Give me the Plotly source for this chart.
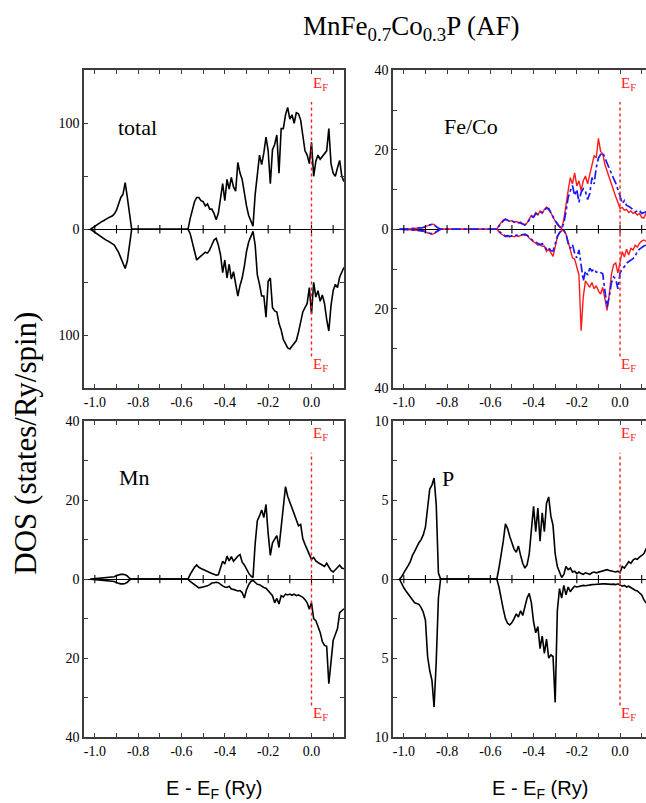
import numpy as np
import plotly.graph_objects as go

# Energy grid relative to the Fermi level (Ry)
energy = np.round(np.arange(-102, 16) * 0.01, 2)

# ---- total DOS (states/Ry/spin) ----
total_up = [
    0, 1.5, 3, 4, 5.5, 7, 8, 9.5, 10.5, 11.5,
    12.5, 14.5, 18, 24, 30, 33, 44, 30, 12, 0,
    0, 0, 0, 0, 0, 0, 0, 0, 0, 0,
    0, 0, 0, 0, 0, 0, 0, 0, 0, 0,
    0, 0, 0, 0, 0, 0, 10, 19, 26, 30,
    30, 27, 26, 22, 24, 19, 19, 15, 9, 15,
    27, 43, 27, 47, 38, 49, 40, 36, 63, 53,
    47, 33, 22, 13, 7, 3, 33, 52, 70, 61,
    72, 87, 74, 43, 75, 80, 89, 53, 95, 95,
    108, 115, 104, 108, 100, 110, 109, 103, 89, 74,
    70, 62, 82, 50, 64, 70, 66, 69, 72, 74,
    95, 62, 53, 50, 58, 65, 50, 45,
]
total_dn = [
    0, 1.5, 3, 4.5, 6, 7.5, 9, 10, 11, 12,
    13.5, 15, 18, 22, 27, 32, 37, 30, 14, 0,
    0, 0, 0, 0, 0, 0, 0, 0, 0, 0,
    0, 0, 0, 0, 0, 0, 0, 0, 0, 0,
    0, 0, 0, 0, 0, 0, 4, 12, 21, 29,
    27, 25, 23.5, 21.6, 22.5, 19.4, 14.8, 10.2, 8.6, 14.8,
    24, 41, 29, 46, 33, 47, 40, 52, 63, 53,
    46, 35, 21, 12, 6, 2, 15, 43, 52, 63,
    63, 83, 49, 46, 74, 77, 78, 89, 95, 104,
    108, 112, 113, 110, 108, 105, 97, 88, 78, 74,
    70, 55, 80, 50, 64, 58, 68, 62, 70, 85,
    96, 72, 58, 52, 55, 45, 40, 36,
]

# ---- Fe / Co partial DOS ----
fe_up = [
    0, 0, 0.05, 0.1, 0.1, 0.15, 0.2, 0.2, 0.25, 0.3,
    0.35, 0.5, 0.7, 1.0, 1.2, 1.3, 1.2, 0.7, 0.2, 0,
    0, 0, 0, 0, 0, 0, 0, 0, 0, 0,
    0, 0, 0, 0, 0, 0, 0, 0, 0, 0,
    0, 0, 0, 0, 0, 0, 1.0, 1.8, 2.3, 2.6,
    2.2, 2.0, 2.2, 1.7, 2.0, 1.6, 1.8, 1.3, 1.0, 1.6,
    2.4, 3.5, 3.0, 4.2, 3.6, 4.6, 4.0, 5.0, 5.6, 5.0,
    4.2, 3.0, 2.0, 1.2, 0.6, 0.2, 2.5, 5.6, 9.7, 13.0,
    11.4, 14.2, 10.9, 12.2, 9.7, 12.2, 13.4, 11.4, 13.8, 15.5,
    18.5, 18.0, 22.9, 19.6, 19.0, 16.3, 14.6, 13.0, 11.2, 9.7,
    8.2, 6.8, 5.2, 5.5, 4.8, 5.0, 4.2, 4.6, 4.0, 4.2,
    3.6, 4.0, 3.0, 2.8, 4.0, 3.5, 3.2, 3.0,
]
fe_dn = [
    0, 0, 0.05, 0.1, 0.1, 0.15, 0.2, 0.2, 0.25, 0.3,
    0.35, 0.5, 0.7, 1.0, 1.2, 1.25, 1.1, 0.7, 0.2, 0,
    0, 0, 0, 0, 0, 0, 0, 0, 0, 0,
    0, 0, 0, 0, 0, 0, 0, 0, 0, 0,
    0, 0, 0, 0, 0, 0, 0.6, 1.2, 1.5, 1.9,
    1.8, 1.9, 1.7, 1.9, 1.6, 1.8, 1.6, 1.4, 1.5, 1.6,
    2.2, 2.8, 3.2, 3.5, 4.0, 3.8, 4.3, 4.2, 5.6, 5.0,
    5.8, 6.8, 4.5, 2.0, 1.0, 0.3, 0.3, 1.2, 3.1, 5.0,
    7.2, 7.5, 9.7, 11.5, 25.5, 17.0, 13.0, 13.8, 14.6, 13.4,
    15.0, 14.2, 15.5, 16.3, 14.6, 17.5, 20.4, 16.5, 11.4, 8.9,
    8.5, 11.0, 8.0, 5.6, 7.0, 5.0, 6.5, 4.8, 5.2, 4.0,
    4.5, 3.5, 3.0, 2.7, 3.0, 3.2, 3.0, 3.2,
]
co_up = [
    0, 0, 0.05, 0.08, 0.1, 0.12, 0.15, 0.2, 0.22, 0.25,
    0.3, 0.45, 0.6, 0.9, 1.1, 1.2, 1.1, 0.6, 0.2, 0,
    0, 0, 0, 0, 0, 0, 0, 0, 0, 0,
    0, 0, 0, 0, 0, 0, 0, 0, 0, 0,
    0, 0, 0, 0, 0, 0, 0.8, 1.6, 2.1, 2.5,
    2.3, 2.0, 2.1, 1.8, 1.9, 1.7, 1.6, 1.2, 1.1, 1.5,
    2.2, 3.2, 3.1, 3.9, 3.8, 4.4, 4.2, 4.8, 5.3, 5.2,
    4.0, 3.2, 2.2, 1.4, 0.7, 0.2, 1.5, 4.5, 8.0, 9.7,
    11.0, 8.5, 10.0, 6.8, 9.3, 10.2, 9.5, 7.5, 9.0, 13.0,
    11.4, 15.5, 17.9, 18.8, 19.3, 17.9, 16.5, 15.4, 14.0, 12.8,
    11.6, 10.2, 8.4, 6.5, 7.2, 6.0, 5.8, 5.4, 5.0, 4.4,
    4.6, 4.8, 4.0, 4.2, 4.4, 4.0, 3.8, 3.6,
]
co_dn = [
    0, 0, 0.05, 0.08, 0.1, 0.12, 0.15, 0.2, 0.22, 0.25,
    0.3, 0.45, 0.6, 0.85, 1.0, 1.1, 1.0, 0.6, 0.2, 0,
    0, 0, 0, 0, 0, 0, 0, 0, 0, 0,
    0, 0, 0, 0, 0, 0, 0, 0, 0, 0,
    0, 0, 0, 0, 0, 0, 0.5, 1.0, 1.4, 1.7,
    1.6, 1.8, 1.6, 1.7, 1.5, 1.6, 1.5, 1.3, 1.2, 1.5,
    2.0, 2.6, 3.0, 3.2, 3.6, 3.9, 3.6, 4.2, 5.0, 4.6,
    5.4, 5.5, 3.8, 1.8, 0.8, 0.3, 0.3, 1.2, 3.5, 4.8,
    3.8, 6.0, 7.2, 5.2, 9.0, 13.0, 10.5, 11.5, 9.8, 10.5,
    10.0, 10.8, 10.6, 11.0, 11.2, 15.5, 19.5, 17.0, 13.5, 12.0,
    12.5, 15.0, 11.0, 10.0, 9.4, 8.5, 8.2, 7.8, 7.4, 6.8,
    5.5, 5.0, 4.5, 4.2, 4.0, 3.8, 3.6, 3.5,
]

# ---- Mn partial DOS ----
mn_up = [
    0, 0.05, 0.1, 0.1, 0.15, 0.2, 0.2, 0.25, 0.3, 0.35,
    0.4, 0.6, 0.9, 1.1, 1.2, 1.2, 1.1, 0.8, 0.2, 0,
    0, 0, 0, 0, 0, 0, 0, 0, 0, 0,
    0, 0, 0, 0, 0, 0, 0, 0, 0, 0,
    0, 0, 0, 0, 0, 0, 1.2, 2.2, 3.0, 3.6,
    3.0, 2.7, 2.4, 2.1, 1.9, 1.6, 1.4, 1.2, 1.0, 1.1,
    3.0, 4.5, 3.8, 5.8, 4.6, 5.7, 4.5, 5.2, 5.8, 6.2,
    4.3, 3.6, 2.4, 1.5, 0.8, 0.4, 9.0, 14.8, 16.0, 17.5,
    15.6, 18.9, 11.5, 6.0, 9.2, 10.2, 11.0, 8.0, 13.5, 19.0,
    23.4, 21.0, 19.5, 18.1, 16.2, 14.8, 13.5, 13.8, 10.2, 8.8,
    7.5, 6.5, 5.0, 5.5, 4.6, 4.2, 3.8, 3.4, 3.2, 4.0,
    3.0, 2.2, 1.8, 2.4, 3.0, 3.5, 2.8, 2.6,
]
mn_dn = [
    0, 0.05, 0.1, 0.1, 0.15, 0.2, 0.2, 0.25, 0.3, 0.35,
    0.4, 0.6, 0.9, 1.1, 1.2, 1.2, 1.1, 0.8, 0.2, 0,
    0, 0, 0, 0, 0, 0, 0, 0, 0, 0,
    0, 0, 0, 0, 0, 0, 0, 0, 0, 0,
    0, 0, 0, 0, 0, 0, 0.6, 1.0, 1.5, 2.0,
    2.2, 2.1, 2.0, 1.8, 1.7, 1.4, 1.0, 0.9, 0.8, 0.9,
    1.4, 1.7, 2.0, 2.1, 1.8, 2.5, 2.6, 2.9, 3.0, 2.9,
    3.4, 4.8, 2.7, 1.4, 0.6, 0.3, 0.8, 1.3, 1.4, 1.8,
    2.1, 2.3, 2.9, 3.4, 4.2, 6.0, 4.9, 6.3, 4.2, 4.5,
    3.8, 4.0, 3.8, 4.1, 3.8, 4.2, 4.0, 4.3, 4.6, 5.2,
    6.0, 7.6, 6.0, 10.0, 10.5, 12.0, 13.5, 15.8, 16.8, 17.0,
    26.5, 21.0, 15.5, 14.0, 12.5, 8.5, 8.0, 7.5,
]

# ---- P partial DOS ----
p_up = [
    0, 0.15, 0.4, 0.6, 0.85, 1.1, 1.5, 1.75, 2.05, 2.3,
    2.5, 2.8, 3.3, 4.5, 5.7, 5.95, 6.4, 4.7, 0.4, 0,
    0, 0, 0, 0, 0, 0, 0, 0, 0, 0,
    0, 0, 0, 0, 0, 0, 0, 0, 0, 0,
    0, 0, 0, 0, 0, 0, 0.7, 1.5, 2.4, 3.5,
    3.2, 2.7, 2.3, 1.9, 1.7, 2.1, 1.5, 1.0, 0.7, 0.9,
    1.6, 3.2, 4.6, 3.0, 4.5, 2.4, 4.2, 3.0, 4.8, 5.2,
    4.0, 3.4, 1.6, 0.8, 0.4, 0.1, 0.3, 0.8, 0.6, 0.7,
    0.45, 0.5, 0.35, 0.45, 0.35, 0.3, 0.4, 0.35, 0.3, 0.4,
    0.45, 0.4, 0.45, 0.5, 0.5, 0.55, 0.6, 0.55, 0.5, 0.45,
    0.45, 0.5, 0.4, 0.8, 0.7, 0.9, 1.1, 1.0, 1.2, 1.3,
    1.25, 1.4, 1.5, 1.6, 1.9, 1.8, 2.0, 2.1,
]
p_dn = [
    0, 0.3, 0.55, 0.75, 0.95, 1.15, 1.35, 1.5, 1.55, 1.6,
    1.8, 2.1, 2.6, 4.9, 5.8, 6.4, 8.1, 5.2, 1.2, 0,
    0, 0, 0, 0, 0, 0, 0, 0, 0, 0,
    0, 0, 0, 0, 0, 0, 0, 0, 0, 0,
    0, 0, 0, 0, 0, 0, 0.5, 1.3, 1.9, 2.5,
    2.8, 2.9, 2.75, 2.5, 2.2, 2.4, 2.0, 2.3, 1.7, 1.2,
    0.9, 1.5, 2.7, 3.4, 3.0, 4.4, 3.6, 4.7, 3.8, 5.0,
    4.8, 4.9, 7.8, 2.0, 0.6, 1.2, 0.4, 1.0, 0.5, 0.8,
    0.6, 0.45, 0.5, 0.45, 0.42, 0.4, 0.42, 0.38, 0.36, 0.35,
    0.34, 0.32, 0.3, 0.3, 0.3, 0.3, 0.32, 0.3, 0.33, 0.32,
    0.35, 0.3, 0.35, 0.45, 0.4, 0.5, 0.45, 0.55, 0.6, 0.7,
    0.75, 0.85, 1.0, 1.3, 1.5, 1.5, 1.6, 1.6,
]

# Axis tick positions and labels (labelled majors, unlabelled minors)
x_major = [-1.0, -0.8, -0.6, -0.4, -0.2, 0.0]
x_major_labels = ["-1.0", "-0.8", "-0.6", "-0.4", "-0.2", "0.0"]
x_minor = [-1.0, -0.9, -0.8, -0.7, -0.6, -0.5, -0.4, -0.3, -0.2, -0.1, 0.0, 0.1]
y_major_total = [-100, 0, 100]
y_labels_total = ["100", "0", "100"]
y_minor_total = [-150, -100, -50, 0, 50, 100, 150]
y_major_40 = [-40, -20, 0, 20, 40]
y_labels_40 = ["40", "20", "0", "20", "40"]
y_minor_40 = [-40, -30, -20, -10, 0, 10, 20, 30, 40]
y_major_p = [-10, -5, 0, 5, 10]
y_labels_p = ["10", "5", "0", "5", "10"]
y_minor_p = [-10, -7.5, -5, -2.5, 0, 2.5, 5, 7.5, 10]

W, H = 646, 803
SERIF = "Liberation Serif, Times New Roman, serif"
SANS = "Liberation Sans, Arial, sans-serif"
FRAME = "#3c3c3c"
RED = "#ff1a1a"
BLUE = "#1a1aff"


def px_x(a, b):
    return [a / W, min(b / W, 1.0)]


def px_y(top, bottom):
    return [1 - bottom / H, 1 - top / H]


panels = [
    dict(n="", xd=px_x(84, 344), yd=px_y(64.5, 388.5), xr=[-1.05, 0.15], yr=[-150, 150],
         yt=(y_major_total, y_labels_total, y_minor_total), mirror=True,
         label="total", lx=116, ly=123),
    dict(n="2", xd=px_x(393, 646), yd=px_y(64.5, 388.5), xr=[-1.05, 0.12], yr=[-40, 40],
         yt=(y_major_40, y_labels_40, y_minor_40), mirror=False,
         label="Fe/Co", lx=442, ly=122),
    dict(n="3", xd=px_x(84, 344), yd=px_y(422, 744), xr=[-1.05, 0.15], yr=[-40, 40],
         yt=(y_major_40, y_labels_40, y_minor_40), mirror=True,
         label="Mn", lx=117, ly=479),
    dict(n="4", xd=px_x(393, 646), yd=px_y(422, 744), xr=[-1.05, 0.12], yr=[-10, 10],
         yt=(y_major_p, y_labels_p, y_minor_p), mirror=False,
         label="P", lx=440, ly=480),
]

series = [
    ("", [(total_up, total_dn, "black", "solid", 1.6)]),
    ("2", [(fe_up, fe_dn, RED, "solid", 1.4), (co_up, co_dn, BLUE, "dashdot", 1.7)]),
    ("3", [(mn_up, mn_dn, "black", "solid", 1.6)]),
    ("4", [(p_up, p_dn, "black", "solid", 1.6)]),
]

fig = go.Figure()

for n, curves in series:
    xa, ya = "x" + n, "y" + n
    for up, dn, color, dash, width in curves:
        for sign, vals in ((1, up), (-1, dn)):
            fig.add_trace(go.Scatter(
                x=energy, y=sign * np.asarray(vals, dtype=float),
                mode="lines", xaxis=xa, yaxis=ya, showlegend=False,
                line=dict(color=color, dash=dash, width=width),
                hoverinfo="skip",
            ))
    # small ticks crossing the zero axis
    fig.add_trace(go.Scatter(
        x=x_minor, y=[0] * len(x_minor), mode="markers", xaxis=xa, yaxis=ya,
        showlegend=False, hoverinfo="skip", cliponaxis=False,
        marker=dict(symbol="line-ns", size=6, color="black",
                    line=dict(color="black", width=1.1)),
    ))

layout = dict(
    width=W, height=H,
    margin=dict(l=0, r=0, t=0, b=0),
    paper_bgcolor="white", plot_bgcolor="white",
    showlegend=False,
)

tick_style = dict(ticks="inside", ticklen=4, tickwidth=1.2, tickcolor=FRAME)

annotations = []
shapes = []
for p in panels:
    n = p["n"]
    xkey, ykey = "xaxis" + n, "yaxis" + n
    layout[xkey] = dict(
        domain=p["xd"], range=p["xr"], anchor="y" + n,
        showline=True, linecolor=FRAME, linewidth=1.6, mirror="allticks",
        tickmode="array", tickvals=x_major, ticktext=x_major_labels,
        minor=dict(tickmode="array", tickvals=x_minor, showgrid=False, **tick_style),
        tickfont=dict(family=SERIF, size=14, color="black"),
        showgrid=False, zeroline=False, fixedrange=True, **tick_style,
    )
    tv, tt, tm = p["yt"]
    layout[ykey] = dict(
        domain=p["yd"], range=p["yr"], anchor="x" + n,
        showline=True, linecolor=FRAME, linewidth=1.6,
        mirror="allticks" if p["mirror"] else False,
        tickmode="array", tickvals=tv, ticktext=tt,
        minor=dict(tickmode="array", tickvals=tm, showgrid=False, **tick_style),
        tickfont=dict(family=SERIF, size=14, color="black"),
        showgrid=False, zeroline=True, zerolinecolor="black", zerolinewidth=1.4,
        fixedrange=True, **tick_style,
    )
    # Fermi level marker
    shapes.append(dict(
        type="line", xref="x" + n, yref="y" + n + " domain",
        x0=0, x1=0, y0=0.1, y1=0.9,
        line=dict(color=RED, width=1.4, dash="dot"),
    ))
    for yy in (0.958, 0.072):
        annotations.append(dict(
            xref="x" + n, yref="y" + n + " domain", x=0, y=yy,
            xanchor="left", yanchor="middle", xshift=-1, showarrow=False,
            text="E<sub>F</sub>", font=dict(family=SERIF, size=15, color=RED),
        ))
    annotations.append(dict(
        xref="paper", yref="paper", x=p["lx"] / W, y=1 - p["ly"] / H,
        xanchor="left", yanchor="middle", showarrow=False,
        text=p["label"], font=dict(family=SERIF, size=22, color="black"),
    ))

annotations += [
    dict(xref="paper", yref="paper", x=411 / W, y=1 - 2 / H,
         xanchor="center", yanchor="top", showarrow=False,
         text="MnFe<sub>0.7</sub>Co<sub>0.3</sub>P (AF)",
         font=dict(family=SERIF, size=27, color="black")),
    dict(xref="paper", yref="paper", x=26 / W, y=1 - 445 / H,
         xanchor="center", yanchor="middle", showarrow=False, textangle=-90,
         text="DOS (states/Ry/spin)",
         font=dict(family=SERIF, size=31, color="black")),
    dict(xref="paper", yref="paper", x=214 / W, y=1 - 797 / H,
         xanchor="center", yanchor="middle", showarrow=False,
         text="E - E<sub>F</sub> (Ry)",
         font=dict(family=SANS, size=20, color="black")),
    dict(xref="paper", yref="paper", x=540 / W, y=1 - 797 / H,
         xanchor="center", yanchor="middle", showarrow=False,
         text="E - E<sub>F</sub> (Ry)",
         font=dict(family=SANS, size=20, color="black")),
]

layout["annotations"] = annotations
layout["shapes"] = shapes
fig.update_layout(**layout)

fig.write_html("out.html", config={"displayModeBar": False})
